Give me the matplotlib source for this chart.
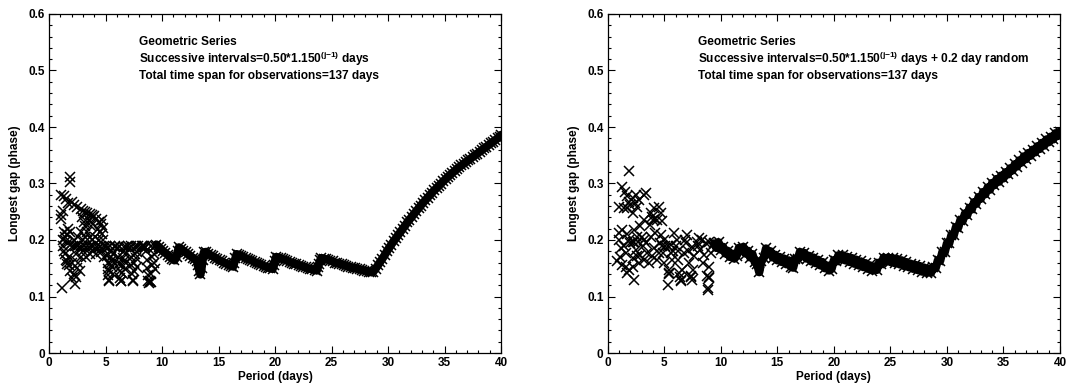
import matplotlib
matplotlib.use('Agg')
import matplotlib.pyplot as plt
from matplotlib.ticker import MultipleLocator, FuncFormatter

plt.rcParams['font.family'] = ['Liberation Sans', 'DejaVu Sans']
plt.rcParams['font.weight'] = 'bold'
plt.rcParams['mathtext.fontset'] = 'custom'
plt.rcParams['mathtext.rm'] = 'Liberation Sans:bold'
plt.rcParams['mathtext.default'] = 'rm'

# ---------------- Left panel (pure geometric series) ----------------
left_sparse_p = [1.1, 1.3, 1.5, 1.85, 1.85, 1.05, 1.1, 1.2,
                 1.7, 2.0, 2.2, 2.5, 2.8, 3.0, 3.2, 3.4, 3.6, 3.8, 3.9, 4.0, 4.2, 4.4, 4.6, 4.7, 4.8, 4.7, 4.8, 3.5, 3.7, 2.9, 3.1,
                 1.3, 1.4, 1.5, 1.7, 1.9, 2.1, 2.3, 2.5, 2.7, 2.9, 3.1, 3.3, 3.5, 3.7, 3.9, 4.1, 4.3, 4.5, 4.7, 4.9,
                 1.15, 1.2, 1.25, 1.35, 1.45, 1.5, 1.55, 1.6, 1.75, 1.8, 1.9, 2.0, 2.05, 2.2, 2.3, 2.35, 2.5, 2.6, 2.8, 3.0,
                 2.4, 2.2, 1.9, 1.7, 1.6, 2.6, 2.8, 3.0, 3.2, 3.4, 3.6, 3.8, 3.3, 3.6, 3.9, 4.2, 4.4, 4.5, 4.6, 4.9,
                 4.1, 3.7, 4.3, 2.7, 3.2]
left_sparse_g = [0.28, 0.278, 0.272, 0.312, 0.302, 0.245, 0.238, 0.252,
                 0.265, 0.268, 0.262, 0.258, 0.255, 0.252, 0.25, 0.248, 0.246, 0.245, 0.24, 0.243, 0.238, 0.232, 0.228, 0.235, 0.222, 0.21, 0.2, 0.236, 0.232, 0.24, 0.232,
                 0.215, 0.205, 0.198, 0.195, 0.192, 0.19, 0.19, 0.19, 0.188, 0.188, 0.19, 0.188, 0.188, 0.19, 0.19, 0.186, 0.185, 0.188, 0.185, 0.19,
                 0.115, 0.2, 0.19, 0.18, 0.175, 0.165, 0.158, 0.162, 0.155, 0.17, 0.145, 0.16, 0.132, 0.14, 0.122, 0.135, 0.15, 0.16, 0.17, 0.18,
                 0.175, 0.2, 0.215, 0.22, 0.21, 0.205, 0.215, 0.2, 0.225, 0.215, 0.205, 0.2, 0.17, 0.175, 0.18, 0.175, 0.2, 0.215, 0.178, 0.17,
                 0.205, 0.225, 0.22, 0.145, 0.205]

left_strip_p = [5.0, 5.4, 5.8, 6.2, 6.6, 7.0, 7.3, 7.7, 8.2, 8.5, 9.0,
                5.1, 5.15, 5.2, 5.22, 5.25, 5.3, 5.32, 5.35, 5.4, 5.45, 5.5, 5.55, 5.6, 5.65, 5.7, 5.75, 5.8,
                6.1, 6.15, 6.2, 6.25, 6.3, 6.35, 6.4, 6.45, 6.5, 6.55, 6.6, 6.65, 6.7, 6.75, 6.8, 6.85,
                7.2, 7.25, 7.3, 7.35, 7.4, 7.45, 7.5, 7.55, 7.6, 7.65, 7.7, 7.75, 7.8, 7.85,
                8.6, 8.65, 8.7, 8.75, 8.8, 8.85, 8.9, 8.95, 9.0, 9.05, 9.1, 9.15, 9.2, 9.25, 9.3, 9.35, 9.4,
                8.2, 8.3, 8.4, 8.5]
left_strip_g = [0.19, 0.19, 0.19, 0.19, 0.188, 0.19, 0.19, 0.19, 0.19, 0.188, 0.19,
                0.185, 0.172, 0.16, 0.148, 0.138, 0.13, 0.127, 0.145, 0.158, 0.17, 0.182, 0.165, 0.152, 0.14, 0.175, 0.16, 0.188,
                0.185, 0.17, 0.158, 0.145, 0.133, 0.127, 0.128, 0.142, 0.155, 0.168, 0.18, 0.162, 0.148, 0.175, 0.188, 0.16,
                0.185, 0.17, 0.155, 0.14, 0.128, 0.13, 0.145, 0.16, 0.175, 0.188, 0.168, 0.152, 0.178, 0.19,
                0.18, 0.165, 0.15, 0.138, 0.128, 0.124, 0.125, 0.127, 0.126, 0.14, 0.155, 0.17, 0.185, 0.175, 0.16, 0.148, 0.19,
                0.185, 0.19, 0.19, 0.185]

left_band_p = [9.5, 9.7, 9.9, 10.1, 10.3, 10.5, 10.7, 10.9, 11.1, 11.3, 11.4, 11.5,
               11.7, 11.9, 12.1, 12.3, 12.5, 12.7, 12.9, 13.1, 13.2, 13.3, 13.4, 13.5, 13.6, 13.7,
               13.9, 14.1, 14.3, 14.5, 14.7, 14.9, 15.1, 15.3, 15.5, 15.7, 15.9, 16.1, 16.3, 16.4, 16.5, 16.6,
               16.8, 17.0, 17.2, 17.4, 17.6, 17.8, 18.0, 18.2, 18.4, 18.6, 18.8, 19.0, 19.2, 19.4, 19.6, 19.8, 19.9, 20.0, 20.1,
               20.3, 20.5, 20.7, 20.9, 21.1, 21.3, 21.5, 21.7, 21.9, 22.1, 22.3, 22.5, 22.7, 22.9, 23.1, 23.3, 23.5, 23.7, 23.8, 23.9, 24.0, 24.1,
               24.3, 24.5, 24.7, 24.9, 25.1, 25.3, 25.5, 25.7, 25.9, 26.1, 26.3, 26.5, 26.7, 26.9, 27.1, 27.3, 27.5, 27.7, 27.9, 28.1, 28.3, 28.5, 28.7,
               28.9, 29.1, 29.3, 29.5, 29.7, 29.9, 30.1, 30.3, 30.5, 30.7, 30.9, 31.1, 31.3, 31.5, 31.7, 31.9, 32.1, 32.3, 32.5, 32.7,
               32.9, 33.1, 33.3, 33.5, 33.7, 33.9, 34.1, 34.3, 34.5, 34.7, 34.9, 35.1, 35.3, 35.5, 35.7, 35.9, 36.1, 36.3, 36.5, 36.7,
               36.9, 37.1, 37.3, 37.5, 37.7, 37.9, 38.1, 38.3, 38.5, 38.7, 38.9, 39.1, 39.3, 39.5, 39.7, 39.9, 40.0]
left_band_g = [0.192, 0.188, 0.184, 0.180, 0.177, 0.174, 0.170, 0.167, 0.164, 0.170, 0.180, 0.187,
               0.184, 0.181, 0.178, 0.175, 0.172, 0.169, 0.166, 0.163, 0.155, 0.145, 0.139, 0.150, 0.165, 0.178,
               0.179, 0.176, 0.173, 0.171, 0.169, 0.166, 0.164, 0.162, 0.160, 0.158, 0.156, 0.154, 0.153, 0.160, 0.168, 0.175,
               0.174, 0.172, 0.170, 0.168, 0.166, 0.165, 0.163, 0.161, 0.159, 0.158, 0.156, 0.154, 0.153, 0.151, 0.150, 0.149, 0.155, 0.163, 0.170,
               0.169, 0.168, 0.166, 0.165, 0.163, 0.161, 0.160, 0.158, 0.157, 0.156, 0.154, 0.153, 0.152, 0.150, 0.149, 0.148, 0.147, 0.146, 0.152, 0.158, 0.164, 0.168,
               0.167, 0.166, 0.165, 0.163, 0.162, 0.160, 0.159, 0.158, 0.157, 0.156, 0.154, 0.153, 0.152, 0.151, 0.150, 0.149, 0.148, 0.147, 0.146, 0.145, 0.144, 0.143, 0.144,
               0.149, 0.155, 0.161, 0.167, 0.173, 0.180, 0.186, 0.192, 0.198, 0.203, 0.209, 0.214, 0.220, 0.225, 0.231, 0.236, 0.241, 0.246, 0.251, 0.256,
               0.261, 0.266, 0.270, 0.275, 0.279, 0.284, 0.288, 0.292, 0.296, 0.300, 0.304, 0.308, 0.312, 0.315, 0.319, 0.322, 0.326, 0.329, 0.332, 0.335,
               0.338, 0.341, 0.344, 0.347, 0.350, 0.353, 0.356, 0.359, 0.362, 0.365, 0.368, 0.371, 0.374, 0.377, 0.380, 0.383, 0.386]

# ---------------- Right panel (geometric series + 0.2 day random) ----------------
right_sparse_p = [1.9, 1.3, 1.7, 1.5, 1.0, 1.45, 1.9, 2.2, 2.5, 2.8,
                  3.2, 2.2, 2.6, 1.75, 3.4, 2.0, 2.4, 3.8, 4.1, 4.5,
                  4.7, 4.0, 4.4, 4.8, 3.2, 3.7, 2.9, 2.3, 1.3, 1.0,
                  3.9, 4.2, 1.0, 1.45, 1.9, 2.2, 2.6, 3.2, 3.8, 4.2,
                  4.7, 5.0, 1.15, 1.6, 2.5, 3.1, 3.5, 4.1, 4.5, 3.95,
                  4.4, 3.65, 2.0, 2.3, 2.7, 3.4, 3.0, 1.7, 0.85, 1.3,
                  1.6, 1.9, 2.2, 2.35, 2.8, 3.2, 2.9, 2.2, 1.75, 2.6,
                  1.1, 4.8, 4.6, 5.3, 5.6, 5.4, 5.35, 5.9, 6.0, 6.2,
                  6.3, 6.5, 6.6, 6.75, 7.05, 6.9, 7.2, 7.35, 7.5, 7.65,
                  7.5, 7.9, 8.1, 8.2, 8.4, 8.5, 8.8, 8.9, 8.85, 9.0,
                  9.1, 9.0, 8.7, 5.0, 4.85, 5.1, 5.7, 5.6, 5.4, 5.45,
                  6.45, 6.4, 7.4, 7.45, 9.0, 8.95, 6.1, 6.8, 7.1, 8.0,
                  8.3, 9.2, 5.8, 6.25]
right_sparse_g = [0.323, 0.293, 0.277, 0.285, 0.259, 0.256, 0.268, 0.274, 0.28, 0.271,
                  0.28, 0.247, 0.259, 0.256, 0.283, 0.262, 0.265, 0.247, 0.256, 0.259,
                  0.247, 0.236, 0.236, 0.233, 0.236, 0.227, 0.224, 0.218, 0.218, 0.212,
                  0.24, 0.238, 0.2, 0.19, 0.2, 0.197, 0.206, 0.2, 0.206, 0.212,
                  0.209, 0.2, 0.186, 0.177, 0.183, 0.189, 0.177, 0.186, 0.177, 0.171,
                  0.165, 0.159, 0.195, 0.196, 0.197, 0.195, 0.205, 0.21, 0.162, 0.156,
                  0.153, 0.147, 0.153, 0.13, 0.159, 0.165, 0.174, 0.168, 0.141, 0.171,
                  0.17, 0.19, 0.195, 0.189, 0.177, 0.147, 0.121, 0.212, 0.189, 0.165,
                  0.141, 0.127, 0.147, 0.177, 0.209, 0.194, 0.159, 0.136, 0.147, 0.171,
                  0.186, 0.197, 0.203, 0.183, 0.159, 0.174, 0.136, 0.112, 0.115, 0.153,
                  0.177, 0.197, 0.194, 0.159, 0.177, 0.189, 0.165, 0.192, 0.142, 0.14,
                  0.13, 0.135, 0.135, 0.13, 0.135, 0.132, 0.2, 0.2, 0.18, 0.19,
                  0.2, 0.19, 0.18, 0.18]

right_band_p = [9.4, 9.6, 9.8, 10.0, 10.2, 10.4, 10.6, 10.8, 11.0, 11.2,
                11.4, 11.6, 11.8, 12.0, 12.2, 12.4, 12.6, 12.8, 13.0, 13.2,
                13.4, 13.6, 13.8, 14.0, 14.2, 14.4, 14.6, 14.8, 15.0, 15.2,
                15.4, 15.6, 15.8, 16.0, 16.2, 16.4, 16.6, 16.8, 17.0, 17.2,
                17.4, 17.6, 17.8, 18.0, 18.2, 18.4, 18.6, 18.8, 19.0, 19.2,
                19.4, 19.6, 19.8, 20.0, 20.2, 20.4, 20.6, 20.8, 21.0, 21.2,
                21.4, 21.6, 21.8, 22.0, 22.2, 22.4, 22.6, 22.8, 23.0, 23.2,
                23.4, 23.6, 23.8, 24.0, 24.2, 24.4, 24.6, 24.8, 25.0, 25.2,
                25.4, 25.6, 25.8, 26.0, 26.2, 26.4, 26.6, 26.8, 27.0, 27.2,
                27.4, 27.6, 27.8, 28.0, 28.2, 28.4, 28.6, 28.8, 29.0, 29.2,
                29.4, 29.6, 29.8, 30.0, 30.2, 30.4, 30.6, 30.8, 31.0, 31.2,
                31.4, 31.6, 31.8, 32.0, 32.2, 32.4, 32.6, 32.8, 33.0, 33.2,
                33.4, 33.6, 33.8, 34.0, 34.2, 34.4, 34.6, 34.8, 35.0, 35.2,
                35.4, 35.6, 35.8, 36.0, 36.2, 36.4, 36.6, 36.8, 37.0, 37.2,
                37.4, 37.6, 37.8, 38.0, 38.2, 38.4, 38.6, 38.8, 39.0, 39.2,
                39.4, 39.6, 39.8, 40.0]
right_band_g = [0.194, 0.186, 0.196, 0.183, 0.188, 0.176, 0.181, 0.170, 0.176, 0.167,
                0.172, 0.186, 0.180, 0.188, 0.176, 0.181, 0.169, 0.175, 0.161, 0.158,
                0.143, 0.163, 0.168, 0.185, 0.175, 0.180, 0.169, 0.174, 0.164, 0.170,
                0.161, 0.167, 0.157, 0.164, 0.153, 0.151, 0.166, 0.166, 0.179, 0.171,
                0.177, 0.167, 0.172, 0.162, 0.169, 0.159, 0.165, 0.155, 0.161, 0.150,
                0.155, 0.146, 0.149, 0.164, 0.162, 0.173, 0.166, 0.173, 0.164, 0.170,
                0.161, 0.168, 0.158, 0.165, 0.155, 0.162, 0.152, 0.159, 0.149, 0.155,
                0.146, 0.153, 0.147, 0.160, 0.157, 0.169, 0.162, 0.169, 0.161, 0.168,
                0.159, 0.166, 0.157, 0.164, 0.154, 0.161, 0.152, 0.158, 0.149, 0.156,
                0.147, 0.154, 0.144, 0.151, 0.142, 0.149, 0.142, 0.152, 0.150, 0.164,
                0.163, 0.179, 0.178, 0.194, 0.194, 0.209, 0.208, 0.223, 0.222, 0.236,
                0.234, 0.247, 0.244, 0.257, 0.254, 0.267, 0.264, 0.276, 0.273, 0.285,
                0.281, 0.293, 0.289, 0.301, 0.297, 0.308, 0.303, 0.314, 0.309, 0.320,
                0.316, 0.327, 0.323, 0.334, 0.330, 0.341, 0.337, 0.348, 0.343, 0.354,
                0.349, 0.360, 0.355, 0.366, 0.361, 0.372, 0.367, 0.378, 0.373, 0.383,
                0.378, 0.389, 0.384, 0.392]

title_line = 'Geometric Series'
interval_left = 'Successive intervals=0.50*1.150$^{\\rm (j{-}1)}$ days'
interval_right = 'Successive intervals=0.50*1.150$^{\\rm (j{-}1)}$ days + 0.2 day random'
span_line = 'Total time span for observations=137 days'

fig = plt.figure(figsize=(10.88, 3.83), dpi=100)
W, H = 1088.0, 383.0
ax1 = fig.add_axes([49 / W, 1 - 353 / H, 452 / W, 339 / H])
ax2 = fig.add_axes([607.7 / W, 1 - 353 / H, 452.3 / W, 339 / H])


def yfmt(v, pos):
    return '0' if abs(v) < 1e-9 else '%.1f' % v


def xfmt(v, pos):
    return '%d' % round(v)


def style(ax):
    ax.set_xlim(0, 40)
    ax.set_ylim(0, 0.6)
    ax.xaxis.set_major_locator(MultipleLocator(5))
    ax.xaxis.set_minor_locator(MultipleLocator(1))
    ax.yaxis.set_major_locator(MultipleLocator(0.1))
    ax.yaxis.set_minor_locator(MultipleLocator(0.02))
    ax.xaxis.set_major_formatter(FuncFormatter(xfmt))
    ax.yaxis.set_major_formatter(FuncFormatter(yfmt))
    ax.tick_params(which='both', direction='in', top=True, right=True,
                   labelsize=8.5, width=0.8, pad=3)
    ax.tick_params(which='major', length=5)
    ax.tick_params(which='minor', length=2.5)
    for s in ax.spines.values():
        s.set_linewidth(0.9)
    ax.set_xlabel('Period (days)', fontsize=8.5, labelpad=1, fontweight='bold')
    ax.set_ylabel('Longest gap (phase)', fontsize=8.5, labelpad=5, fontweight='bold')


mk = dict(linestyle='none', marker='x', color='black', ms=7, mew=1.1)
mk_band = dict(linestyle='none', marker='x', color='black', ms=7.5, mew=1.1)

ax1.plot(left_sparse_p, left_sparse_g, **mk)
ax1.plot(left_strip_p, left_strip_g, **mk)
ax1.plot(left_band_p, left_band_g, **mk_band)
ax1.plot(left_band_p, left_band_g, color='black', lw=6.0, solid_joinstyle='round',
         solid_capstyle='round')
ax2.plot(right_sparse_p, right_sparse_g, **mk)
ax2.plot(right_band_p, right_band_g, **mk_band)
ax2.plot(right_band_p, right_band_g, color='black', lw=6.0, solid_joinstyle='round',
         solid_capstyle='round')

for ax, line2 in ((ax1, interval_left), (ax2, interval_right)):
    style(ax)
    ax.text(8.0, 0.551, title_line, fontsize=8.6, va='center', ha='left')
    ax.text(8.0, 0.521, line2, fontsize=8.6, va='center', ha='left')
    ax.text(8.0, 0.491, span_line, fontsize=8.6, va='center', ha='left')

fig.savefig('out.png', dpi=100)
